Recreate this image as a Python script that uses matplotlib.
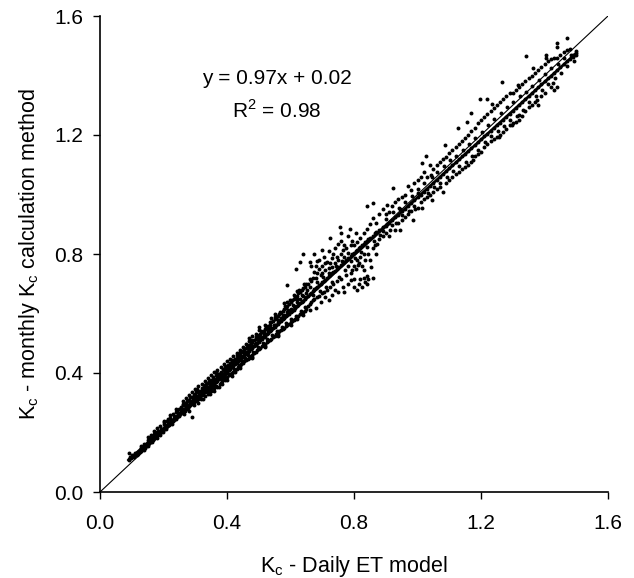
import matplotlib.pyplot as plt
import numpy as np

plt.rcParams['font.family'] = ['Liberation Sans', 'DejaVu Sans']

# (Kc daily ET model, Kc monthly calculation)
pts = [
    # low end
    (0.09,0.112),(0.09,0.132),(0.095,0.118),(0.10,0.118),(0.10,0.124),(0.105,0.122),
    (0.11,0.125),(0.11,0.131),(0.115,0.130),(0.12,0.128),(0.12,0.136),(0.125,0.135),
    (0.13,0.142),(0.13,0.147),(0.135,0.145),(0.14,0.152),(0.14,0.160),(0.145,0.158),
    (0.15,0.160),(0.15,0.175),(0.155,0.165),(0.16,0.170),(0.16,0.190),(0.165,0.176),
    (0.17,0.182),(0.17,0.196),(0.175,0.188),(0.18,0.190),(0.18,0.214),(0.185,0.196),
    (0.19,0.200),(0.19,0.222),(0.195,0.205),(0.20,0.212),(0.20,0.228),(0.205,0.220),
    (0.21,0.222),(0.21,0.240),(0.215,0.228),(0.22,0.232),(0.22,0.248),(0.225,0.236),
    (0.23,0.240),(0.23,0.262),(0.235,0.250),(0.24,0.252),(0.24,0.268),(0.245,0.258),
    (0.25,0.262),(0.25,0.280),
    # 0.25 - 0.45
    (0.255,0.270),(0.255,0.285),(0.26,0.268),(0.26,0.292),(0.265,0.278),(0.265,0.262),
    (0.27,0.280),(0.27,0.300),(0.27,0.290),(0.275,0.285),(0.275,0.305),(0.28,0.288),
    (0.28,0.310),(0.28,0.272),(0.285,0.292),(0.285,0.300),(0.289,0.253),(0.29,0.298),
    (0.29,0.318),(0.29,0.305),(0.295,0.302),(0.295,0.325),(0.30,0.305),(0.30,0.315),
    (0.30,0.330),(0.305,0.310),(0.305,0.322),(0.31,0.312),(0.31,0.335),(0.31,0.300),
    (0.315,0.320),(0.315,0.340),(0.32,0.325),(0.32,0.332),(0.32,0.348),(0.325,0.330),
    (0.325,0.312),(0.33,0.335),(0.33,0.345),(0.33,0.358),(0.335,0.338),(0.335,0.350),
    (0.34,0.340),(0.34,0.352),(0.34,0.365),(0.34,0.328),(0.345,0.348),(0.345,0.370),
    (0.35,0.350),(0.35,0.360),(0.35,0.378),(0.35,0.338),(0.355,0.358),(0.355,0.372),
    (0.36,0.362),(0.36,0.380),(0.36,0.348),(0.365,0.370),(0.365,0.392),(0.365,0.355),
    (0.37,0.372),(0.37,0.385),(0.37,0.353),(0.375,0.380),(0.375,0.398),(0.38,0.382),
    (0.38,0.390),(0.38,0.405),(0.38,0.368),(0.385,0.388),(0.385,0.372),(0.39,0.392),
    (0.39,0.410),(0.39,0.380),(0.395,0.398),(0.395,0.415),(0.395,0.375),(0.40,0.400),
    (0.40,0.420),(0.40,0.385),(0.40,0.408),(0.405,0.410),(0.405,0.425),(0.405,0.392),
    (0.41,0.412),(0.41,0.432),(0.41,0.395),(0.415,0.420),(0.415,0.438),(0.415,0.400),
    (0.42,0.425),(0.42,0.440),(0.42,0.405),(0.42,0.432),(0.425,0.430),(0.425,0.448),
    (0.425,0.410),(0.43,0.435),(0.43,0.452),(0.43,0.415),(0.435,0.440),(0.435,0.460),
    (0.435,0.420),(0.44,0.445),(0.44,0.462),(0.44,0.425),(0.44,0.452),(0.445,0.450),
    (0.445,0.470),(0.445,0.430),(0.45,0.455),(0.45,0.475),(0.45,0.432),
    # 0.45 - 0.65
    (0.455,0.462),(0.455,0.480),(0.455,0.440),(0.46,0.465),(0.46,0.485),(0.46,0.445),
    (0.46,0.472),(0.465,0.470),(0.465,0.490),(0.465,0.448),(0.47,0.475),(0.47,0.495),
    (0.47,0.452),(0.47,0.482),(0.475,0.480),(0.475,0.500),(0.475,0.458),(0.48,0.485),
    (0.48,0.505),(0.48,0.462),(0.48,0.492),(0.485,0.490),(0.485,0.512),(0.485,0.468),
    (0.49,0.495),(0.49,0.515),(0.49,0.470),(0.49,0.502),(0.495,0.500),(0.495,0.522),
    (0.495,0.478),(0.50,0.505),(0.50,0.528),(0.50,0.480),(0.50,0.512),(0.50,0.545),
    (0.505,0.510),(0.505,0.532),(0.505,0.485),(0.51,0.515),(0.51,0.538),(0.51,0.490),
    (0.51,0.522),(0.515,0.520),(0.515,0.542),(0.515,0.495),(0.52,0.525),(0.52,0.548),
    (0.52,0.498),(0.52,0.532),(0.52,0.560),(0.525,0.530),(0.525,0.552),(0.525,0.505),
    (0.53,0.535),(0.53,0.558),(0.53,0.508),(0.53,0.542),(0.535,0.540),(0.535,0.562),
    (0.535,0.512),(0.54,0.545),(0.54,0.570),(0.54,0.515),(0.54,0.552),(0.545,0.550),
    (0.545,0.575),(0.545,0.520),(0.55,0.555),(0.55,0.580),(0.55,0.525),(0.55,0.562),
    (0.55,0.598),(0.555,0.560),(0.555,0.585),(0.555,0.530),(0.56,0.565),(0.56,0.590),
    (0.56,0.535),(0.56,0.572),(0.565,0.570),(0.565,0.598),(0.565,0.540),(0.57,0.575),
    (0.57,0.602),(0.57,0.545),(0.57,0.585),(0.575,0.580),(0.575,0.610),(0.575,0.548),
    (0.58,0.585),(0.58,0.615),(0.58,0.552),(0.58,0.595),(0.585,0.590),(0.585,0.620),
    (0.585,0.558),(0.588,0.696),(0.59,0.595),(0.59,0.625),(0.59,0.560),(0.59,0.605),
    (0.59,0.640),(0.595,0.600),(0.595,0.632),(0.595,0.565),(0.60,0.605),(0.60,0.638),
    (0.60,0.570),(0.60,0.615),(0.605,0.610),(0.605,0.645),(0.605,0.575),(0.61,0.612),
    (0.61,0.650),(0.61,0.578),(0.61,0.625),(0.615,0.620),(0.615,0.655),(0.615,0.582),
    (0.617,0.750),(0.62,0.625),(0.62,0.660),(0.62,0.588),(0.62,0.640),(0.625,0.630),
    (0.625,0.668),(0.625,0.592),(0.63,0.635),(0.63,0.672),(0.63,0.598),(0.63,0.648),
    (0.63,0.773),(0.635,0.640),(0.635,0.678),(0.635,0.600),(0.64,0.642),(0.64,0.685),
    (0.64,0.605),(0.64,0.660),(0.64,0.800),(0.645,0.650),(0.645,0.690),(0.645,0.610),
    (0.65,0.655),(0.65,0.700),(0.65,0.615),(0.65,0.668),
    # 0.65 - 0.90
    (0.655,0.660),(0.655,0.700),(0.655,0.625),(0.66,0.665),(0.66,0.773),(0.66,0.632),
    (0.66,0.690),(0.665,0.670),(0.665,0.710),(0.665,0.640),(0.67,0.675),(0.674,0.800),
    (0.67,0.645),(0.67,0.720),(0.675,0.682),(0.675,0.740),(0.675,0.650),(0.68,0.685),
    (0.68,0.720),(0.68,0.618),(0.68,0.760),(0.685,0.690),(0.685,0.735),(0.685,0.655),
    (0.69,0.695),(0.69,0.750),(0.69,0.660),(0.69,0.780),(0.695,0.700),(0.695,0.728),
    (0.695,0.640),(0.70,0.705),(0.70,0.760),(0.70,0.668),(0.70,0.735),(0.705,0.708),
    (0.705,0.790),(0.705,0.672),(0.71,0.712),(0.71,0.745),(0.71,0.655),(0.71,0.770),
    (0.715,0.720),(0.715,0.772),(0.715,0.680),(0.72,0.725),(0.72,0.810),(0.72,0.645),
    (0.72,0.752),(0.724,0.853),(0.725,0.730),(0.725,0.770),(0.725,0.690),(0.73,0.735),
    (0.73,0.785),(0.73,0.662),(0.73,0.755),(0.735,0.740),(0.735,0.800),(0.735,0.700),
    (0.74,0.742),(0.74,0.770),(0.74,0.680),(0.74,0.820),(0.745,0.750),(0.745,0.790),
    (0.745,0.708),(0.75,0.755),(0.75,0.835),(0.75,0.672),(0.75,0.780),(0.756,0.892),
    (0.76,0.762),(0.76,0.800),(0.76,0.715),(0.76,0.845),(0.765,0.770),(0.765,0.812),
    (0.765,0.690),(0.77,0.772),(0.77,0.672),(0.77,0.790),(0.77,0.830),(0.775,0.780),
    (0.775,0.820),(0.775,0.728),(0.78,0.785),(0.78,0.860),(0.78,0.700),(0.78,0.805),
    (0.787,0.883),(0.79,0.792),(0.79,0.830),(0.79,0.735),(0.79,0.712),(0.795,0.800),
    (0.795,0.845),(0.795,0.745),(0.80,0.805),(0.80,0.760),(0.80,0.690),(0.80,0.830),
    (0.805,0.810),(0.805,0.870),(0.805,0.750),(0.81,0.812),(0.81,0.680),(0.81,0.780),
    (0.81,0.840),(0.815,0.820),(0.815,0.770),(0.815,0.700),(0.82,0.825),(0.82,0.855),
    (0.82,0.715),(0.82,0.790),(0.825,0.830),(0.825,0.690),(0.825,0.760),(0.83,0.832),
    (0.83,0.870),(0.83,0.720),(0.83,0.800),(0.835,0.706),(0.835,0.840),(0.835,0.780),
    (0.84,0.845),(0.84,0.885),(0.84,0.725),(0.84,0.960),(0.845,0.850),(0.845,0.800),
    (0.845,0.715),(0.85,0.855),(0.85,0.900),(0.85,0.780),(0.86,0.862),(0.86,0.720),
    (0.86,0.820),(0.86,0.920),(0.86,0.971),(0.865,0.870),(0.865,0.830),(0.87,0.875),
    (0.87,0.905),(0.87,0.800),(0.88,0.880),(0.88,0.935),(0.88,0.850),(0.89,0.892),
    (0.89,0.860),(0.89,0.950),
    # 0.90 - 1.20
    (0.90,0.895),(0.90,0.935),(0.90,0.870),(0.905,0.900),(0.905,0.965),(0.91,0.905),
    (0.91,0.940),(0.91,0.860),(0.92,0.915),(0.92,0.960),(0.92,0.897),(0.923,1.023),
    (0.93,0.925),(0.93,0.975),(0.93,0.880),(0.94,0.932),(0.94,0.985),(0.94,0.905),
    (0.945,0.880),(0.945,0.950),(0.95,0.945),(0.95,0.990),(0.95,0.915),(0.96,0.952),
    (0.96,1.000),(0.96,0.925),(0.97,0.960),(0.97,1.030),(0.97,0.935),(0.98,0.972),
    (0.98,1.015),(0.98,0.945),(0.986,0.914),(0.99,0.980),(0.99,1.040),(0.99,0.960),
    (1.00,0.990),(1.00,1.050),(1.00,0.955),(1.00,1.020),(1.013,0.955),(1.013,1.107),
    (1.01,1.000),(1.01,1.060),(1.02,1.010),(1.02,1.075),(1.02,0.985),(1.027,1.130),
    (1.03,1.020),(1.03,1.060),(1.03,0.990),(1.04,1.030),(1.04,1.100),(1.04,1.000),
    (1.045,0.980),(1.045,1.060),(1.05,1.040),(1.05,1.085),(1.05,1.010),(1.06,1.050),
    (1.06,1.100),(1.06,1.020),(1.07,1.060),(1.07,1.110),(1.07,1.025),(1.08,1.068),
    (1.08,1.010),(1.08,1.120),(1.087,1.166),(1.09,1.078),(1.09,1.125),(1.09,1.040),
    (1.10,1.090),(1.10,1.049),(1.10,1.140),(1.11,1.098),(1.11,1.150),(1.11,1.060),
    (1.12,1.108),(1.12,1.160),(1.12,1.070),(1.128,1.223),(1.13,1.118),(1.13,1.170),
    (1.13,1.077),(1.14,1.128),(1.14,1.180),(1.14,1.085),(1.15,1.135),(1.15,1.190),
    (1.15,1.093),(1.155,1.245),(1.16,1.145),(1.16,1.200),(1.16,1.100),(1.167,1.274),
    (1.17,1.155),(1.17,1.215),(1.17,1.110),(1.176,1.116),(1.18,1.165),(1.18,1.225),
    (1.18,1.130),(1.19,1.175),(1.19,1.240),(1.19,1.135),(1.197,1.320),(1.20,1.185),
    (1.20,1.250),(1.20,1.144),
    # 1.20 - 1.50
    (1.21,1.195),(1.21,1.260),(1.21,1.160),(1.218,1.320),(1.22,1.205),(1.22,1.270),
    (1.22,1.170),(1.23,1.215),(1.23,1.280),(1.23,1.180),(1.234,1.304),(1.24,1.225),
    (1.24,1.290),(1.24,1.185),(1.25,1.232),(1.25,1.300),(1.25,1.194),(1.257,1.194),
    (1.265,1.379),(1.26,1.240),(1.26,1.310),(1.26,1.200),(1.27,1.250),(1.27,1.320),
    (1.27,1.210),(1.28,1.260),(1.28,1.330),(1.28,1.220),(1.29,1.270),(1.29,1.340),
    (1.29,1.235),(1.297,1.234),(1.30,1.280),(1.30,1.340),(1.30,1.240),(1.31,1.290),
    (1.31,1.350),(1.31,1.245),(1.317,1.368),(1.32,1.300),(1.32,1.360),(1.32,1.250),
    (1.32,1.267),(1.33,1.310),(1.33,1.370),(1.33,1.265),(1.342,1.467),(1.34,1.320),
    (1.34,1.380),(1.34,1.280),(1.35,1.330),(1.35,1.390),(1.35,1.295),(1.36,1.340),
    (1.36,1.400),(1.36,1.300),(1.364,1.425),(1.37,1.350),(1.37,1.410),(1.37,1.310),
    (1.375,1.318),(1.38,1.360),(1.38,1.300),(1.38,1.420),(1.39,1.370),(1.39,1.430),
    (1.39,1.330),(1.40,1.380),(1.40,1.440),(1.40,1.340),(1.405,1.469),(1.405,1.459),
    (1.41,1.390),(1.41,1.450),(1.42,1.400),(1.42,1.455),(1.42,1.360),(1.427,1.375),
    (1.43,1.410),(1.43,1.351),(1.43,1.460),(1.438,1.362),(1.44,1.420),(1.44,1.509),
    (1.44,1.497),(1.44,1.460),(1.45,1.430),(1.45,1.470),(1.46,1.440),(1.46,1.480),
    (1.47,1.450),(1.47,1.527),(1.47,1.485),(1.48,1.455),(1.48,1.490),(1.49,1.465),
    (1.49,1.463),(1.49,1.470),(1.50,1.475),(1.50,1.482),(1.50,1.470),
]

# more points filling the dense parts of the cloud
pts_fill = [
    (0.092,0.108),(0.098,0.113),(0.108,0.117),(0.118,0.124),(0.128,0.139),(0.138,0.141),
    (0.143,0.149),(0.152,0.155),(0.158,0.181),(0.163,0.167),(0.168,0.174),(0.172,0.203),
    (0.178,0.181),(0.183,0.205),(0.188,0.190),(0.193,0.212),(0.198,0.201),(0.203,0.235),
    (0.208,0.213),(0.213,0.245),(0.218,0.225),(0.223,0.243),(0.228,0.229),(0.233,0.255),
    (0.238,0.244),(0.243,0.273),(0.248,0.255),
    (0.252,0.266),(0.257,0.279),(0.262,0.297),(0.267,0.273),(0.272,0.295),(0.277,0.281),
    (0.282,0.318),(0.287,0.296),(0.292,0.311),(0.297,0.292),(0.302,0.338),(0.307,0.318),
    (0.312,0.327),(0.317,0.311),(0.322,0.339),(0.327,0.352),(0.332,0.322),(0.337,0.344),
    (0.342,0.372),(0.347,0.340),(0.352,0.368),(0.357,0.385),(0.362,0.356),(0.367,0.381),
    (0.372,0.395),(0.377,0.364),(0.382,0.398),(0.387,0.412),(0.392,0.386),(0.397,0.405),
    (0.402,0.428),(0.407,0.398),(0.412,0.421),(0.417,0.445),(0.422,0.414),(0.427,0.439),
    (0.432,0.462),(0.437,0.428),(0.442,0.470),(0.447,0.442),(0.452,0.466),(0.305,0.345),
    (0.345,0.330),(0.385,0.362),(0.425,0.402),(0.335,0.362),(0.365,0.402),(0.395,0.425),
    (0.415,0.390),(0.375,0.352),
    (0.457,0.452),(0.462,0.495),(0.467,0.462),(0.472,0.488),(0.477,0.510),(0.482,0.472),
    (0.487,0.498),(0.492,0.522),(0.497,0.488),(0.502,0.518),(0.507,0.540),(0.512,0.502),
    (0.517,0.530),(0.522,0.555),(0.527,0.515),(0.532,0.548),(0.537,0.572),(0.542,0.528),
    (0.547,0.562),(0.552,0.588),(0.557,0.540),(0.562,0.578),(0.567,0.605),(0.572,0.555),
    (0.577,0.592),(0.582,0.625),(0.587,0.568),(0.592,0.612),(0.597,0.645),(0.602,0.582),
    (0.607,0.628),(0.612,0.662),(0.617,0.592),(0.622,0.648),(0.627,0.680),(0.632,0.608),
    (0.637,0.662),(0.642,0.698),(0.647,0.622),(0.652,0.678),(0.48,0.452),(0.52,0.488),
    (0.56,0.525),(0.60,0.560),(0.64,0.595),(0.50,0.555),(0.54,0.585),(0.58,0.635),
    (0.62,0.675),(0.47,0.508),
    (0.662,0.715),(0.672,0.662),(0.682,0.705),(0.692,0.675),(0.702,0.722),(0.712,0.690),
    (0.722,0.735),(0.732,0.705),(0.742,0.758),(0.752,0.722),(0.762,0.778),(0.772,0.745),
    (0.782,0.760),(0.792,0.775),(0.802,0.785),(0.812,0.762),(0.822,0.808),(0.832,0.745),
    (0.842,0.822),(0.852,0.755),(0.862,0.845),(0.872,0.835),(0.882,0.865),(0.892,0.878),
    (0.70,0.815),(0.76,0.870),(0.665,0.760),(0.685,0.775),(0.80,0.715),(0.84,0.700),
    (0.902,0.918),(0.912,0.880),(0.922,0.940),(0.932,0.905),(0.942,0.955),(0.952,0.930),
    (0.962,0.975),(0.972,0.945),(0.982,0.995),(0.992,0.950),(1.002,1.005),(1.012,0.975),
    (1.022,1.040),(1.032,1.005),(1.042,1.065),(1.052,1.025),(1.062,1.075),(1.072,1.040),
    (1.082,1.095),(1.092,1.060),(1.102,1.115),(1.112,1.080),(1.122,1.130),(1.132,1.095),
    (1.142,1.150),(1.152,1.110),(1.162,1.170),(1.172,1.128),(1.182,1.190),(1.192,1.150),
    (1.202,1.210),(1.212,1.175),(1.222,1.235),(1.232,1.195),(1.242,1.255),(1.252,1.215),
    (1.262,1.275),(1.272,1.230),(1.282,1.295),(1.292,1.250),(1.302,1.310),(1.312,1.265),
    (1.322,1.330),(1.332,1.285),(1.342,1.345),(1.352,1.310),(1.362,1.365),(1.372,1.330),
    (1.382,1.385),(1.392,1.350),(1.402,1.405),(1.412,1.370),(1.422,1.425),(1.432,1.390),
    (1.442,1.440),(1.452,1.410),(1.462,1.458),(1.472,1.432),(1.482,1.470),(1.492,1.450),
    # upper and lower edges of the 0.15 - 0.65 band
    (0.13,0.155),(0.15,0.185),(0.17,0.206),(0.20,0.238),(0.22,0.258),(0.24,0.278),
    (0.26,0.305),(0.27,0.315),(0.28,0.325),(0.29,0.335),(0.30,0.345),(0.31,0.355),
    (0.32,0.362),(0.33,0.372),(0.34,0.382),(0.35,0.392),(0.36,0.402),(0.37,0.410),
    (0.38,0.420),(0.39,0.430),(0.40,0.440),(0.41,0.448),(0.42,0.458),(0.43,0.468),
    (0.44,0.478),(0.45,0.488),(0.46,0.498),(0.47,0.518),(0.48,0.525),(0.49,0.532),
    (0.36,0.340),(0.40,0.375),(0.44,0.418),(0.48,0.455),(0.52,0.492),(0.56,0.528),
    (0.62,0.580),(0.66,0.612),
]

all_pts = pts + pts_fill
kc_daily = np.array([p[0] for p in all_pts])
kc_monthly = np.array([p[1] for p in all_pts])

slope = 0.97
intercept = 0.02
r2 = 0.98

ticks = [0.0, 0.4, 0.8, 1.2, 1.6]

fig = plt.figure(figsize=(6.34, 5.78), dpi=100)
ax = fig.add_axes([100/634, 86/578, 508/634, 476/578])

ax.scatter(kc_daily, kc_monthly, s=8, c='black', marker='o', linewidths=0)
ax.plot([0, 1.6], [0, 1.6], color='black', lw=0.8)
xf = np.array([kc_daily.min(), kc_daily.max()])
ax.plot(xf, slope*xf + intercept, color='black', lw=2)

ax.set_xlim(0, 1.6)
ax.set_ylim(0, 1.6)
ax.set_xticks(ticks)
ax.set_yticks(ticks)
ax.set_xticklabels(['%.1f' % t for t in ticks])
ax.set_yticklabels(['%.1f' % t for t in ticks])
ax.tick_params(direction='out', length=5, width=1, labelsize=15, colors='black')
ax.tick_params(axis='x', pad=11)
ax.tick_params(axis='y', pad=7)
for s in ['top', 'right']:
    ax.spines[s].set_visible(False)
for s in ['left', 'bottom']:
    ax.spines[s].set_linewidth(1.2)

ax.set_xlabel('K$_\\mathregular{c}$ - Daily ET model', fontsize=15.5, labelpad=15)
ax.set_ylabel('K$_\\mathregular{c}$ - monthly K$_\\mathregular{c}$ calculation method', fontsize=15.5, labelpad=9)

ax.text(0.557, 1.39, 'y = %.2fx + %.2f' % (slope, intercept), fontsize=15, ha='center', va='center')
ax.text(0.557, 1.283, 'R$^\\mathregular{2}$ = %.2f' % r2, fontsize=15, ha='center', va='center')

fig.savefig('out.png', dpi=100)
